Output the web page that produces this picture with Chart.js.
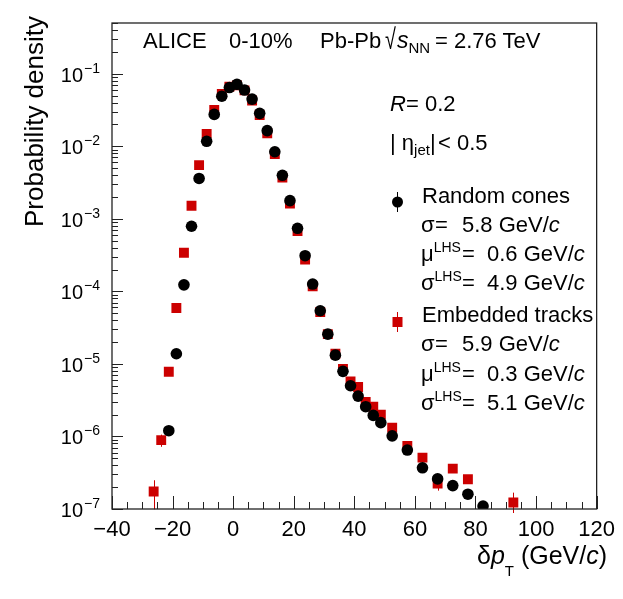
<!DOCTYPE html>
<html>
<head>
<meta charset="utf-8">
<script src="https://cdn.jsdelivr.net/npm/chart.js@4.4.0/dist/chart.umd.min.js"></script>
<style>
  html, body { margin: 0; padding: 0; background: #fff; }
  #wrap { position: relative; width: 623px; height: 599px; }
  canvas { position: absolute; left: 0; top: 0; }
  .t { position: absolute; font-family: "Liberation Sans", Arial, sans-serif; color: #000; white-space: pre; line-height: 1; }
  .t .s { position: relative; line-height: 0; }
</style>
</head>
<body>
<div id="wrap"><canvas id="c" width="623" height="599"></canvas></div>
<script>
// random cones (black circles)
const coneX = [-21.25, -18.75, -16.25, -13.75, -11.25, -8.75, -6.25, -3.75, -1.25, 1.25, 3.75, 6.25,
  8.75, 11.25, 13.75, 16.25, 18.75, 21.25, 23.75, 26.25, 28.75, 31.25, 33.75, 36.25, 38.75, 41.25,
  43.75, 46.25, 48.75, 52.5, 57.5, 62.5, 67.5, 72.5, 77.5, 82.5];
const coneY = [1.2e-6, 1.38e-5, 1.23e-4, 7.9e-4, 3.6e-3, 1.17e-2, 2.75e-2, 4.9e-2, 6.45e-2, 7.15e-2, 5.95e-2, 4.47e-2,
  2.84e-2, 1.64e-2, 8.4e-3, 3.98e-3, 1.78e-3, 7.4e-4, 3.1e-4, 1.26e-4, 5.4e-5, 2.57e-5, 1.32e-5, 7.9e-6, 5.0e-6, 3.6e-6,
  2.57e-6, 1.95e-6, 1.55e-6, 1.02e-6, 6.5e-7, 3.7e-7, 2.6e-7, 2.1e-7, 1.6e-7, 1.1e-7];

// embedded tracks (red squares)
const embX = [-26.25, -23.75, -21.25, -18.75, -16.25, -13.75, -11.25, -8.75, -6.25, -3.75, -1.25, 1.25, 3.75,
  6.25, 8.75, 11.25, 13.75, 16.25, 18.75, 21.25, 23.75, 26.25, 28.75, 31.25, 33.75, 36.25, 38.75, 41.25,
  43.75, 46.25, 48.75, 52.5, 57.5, 62.5, 67.5, 72.5, 77.5, 92.5];
const embY = [1.74e-7, 8.9e-7, 7.8e-6, 5.9e-5, 3.4e-4, 1.51e-3, 5.5e-3, 1.48e-2, 3.16e-2, 5.25e-2, 6.6e-2, 6.9e-2, 5.9e-2,
  4.27e-2, 2.7e-2, 1.51e-2, 7.8e-3, 3.7e-3, 1.62e-3, 6.8e-4, 2.75e-4, 1.17e-4, 5.2e-5, 2.57e-5, 1.38e-5, 8.5e-6, 5.75e-6, 4.8e-6,
  3.0e-6, 2.57e-6, 2.0e-6, 1.32e-6, 7.4e-7, 5.1e-7, 2.24e-7, 3.6e-7, 2.57e-7, 1.23e-7];
const embErr = [0.75e-7, 1.7e-7, 0, 0, 0, 0, 0, 0, 0, 0, 0, 0, 0,
  0, 0, 0, 0, 0, 0, 0, 0, 0, 0, 0, 0, 0, 0, 0,
  0, 0, 0, 0, 0, 0, 0.45e-7, 0.3e-7, 0.35e-7, 0.45e-7];

const xTicks = [-40, -20, 0, 20, 40, 60, 80, 100, 120];
const yExponents = [-7, -6, -5, -4, -3, -2, -1];

const FONT = '"Liberation Sans", Arial, sans-serif';
const RED = '#cc0000';

const rootFrame = {
  id: 'rootFrame',
  beforeDatasetsDraw(chart) {
    const { ctx, chartArea: a, scales: { x, y } } = chart;
    ctx.save();
    ctx.beginPath();
    ctx.rect(a.left, a.top, a.right - a.left, a.bottom - a.top + 4);
    ctx.clip();
    ctx.lineWidth = 1;
    ctx.strokeStyle = RED;
    embX.forEach((v, i) => {
      if (!embErr[i]) return;
      const px = Math.round(x.getPixelForValue(v)) + 0.5;
      ctx.beginPath();
      ctx.moveTo(px, y.getPixelForValue(embY[i] + embErr[i]));
      ctx.lineTo(px, y.getPixelForValue(Math.max(embY[i] - embErr[i], 1e-8)));
      ctx.stroke();
    });
    ctx.restore();
  },
  afterDraw(chart) {
    const { ctx, chartArea: a, scales: { x, y } } = chart;
    ctx.save();
    // frame
    ctx.strokeStyle = '#222';
    ctx.lineWidth = 1.3;
    ctx.strokeRect(a.left, a.top, a.right - a.left, a.bottom - a.top);
    // x ticks (inside)
    ctx.lineWidth = 1;
    ctx.beginPath();
    for (let v = -40; v <= 120; v += 5) {
      const px = Math.round(x.getPixelForValue(v)) + 0.5;
      const len = v % 20 === 0 ? 13 : 7;
      ctx.moveTo(px, a.bottom);
      ctx.lineTo(px, a.bottom - len);
    }
    // y ticks (inside)
    yExponents.forEach(e => {
      for (let m = 1; m <= 9; m++) {
        const val = m * Math.pow(10, e);
        if (val > y.max) break;
        const py = Math.round(y.getPixelForValue(val)) + 0.5;
        ctx.moveTo(a.left, py);
        ctx.lineTo(a.left + (m === 1 ? 11 : 6), py);
      }
    });
    ctx.stroke();
    // y labels 10^n
    ctx.fillStyle = '#000';
    ctx.textBaseline = 'alphabetic';
    yExponents.forEach(e => {
      const py = y.getPixelForValue(Math.pow(10, e));
      const sup = '\u2212' + Math.abs(e);
      ctx.font = '14px ' + FONT;
      const sw = ctx.measureText(sup).width;
      const supRight = a.left - 12;
      ctx.textAlign = 'right';
      ctx.fillText(sup, supRight, py - 1);
      ctx.font = '20px ' + FONT;
      ctx.fillText('10', supRight - sw - 1, py + 8);
    });
    // legend markers
    ctx.strokeStyle = '#000';
    ctx.beginPath();
    ctx.moveTo(397.5, 192); ctx.lineTo(397.5, 212);
    ctx.stroke();
    ctx.fillStyle = '#000';
    ctx.beginPath();
    ctx.arc(397.5, 202, 5.5, 0, Math.PI * 2);
    ctx.fill();
    ctx.strokeStyle = RED;
    ctx.beginPath();
    ctx.moveTo(397.5, 312); ctx.lineTo(397.5, 332);
    ctx.stroke();
    ctx.fillStyle = RED;
    ctx.fillRect(392.5, 317, 10, 10);
    ctx.restore();
  }
};

new Chart(document.getElementById('c'), {
  type: 'scatter',
  data: {
    datasets: [{
      label: 'Random cones',
      data: coneX.map((v, i) => ({ x: v, y: coneY[i] })),
      pointStyle: 'circle',
      pointRadius: 5.8,
      pointHoverRadius: 5.8,
      backgroundColor: '#000',
      borderWidth: 0
    }, {
      label: 'Embedded tracks',
      data: embX.map((v, i) => ({ x: v, y: embY[i] })),
      pointStyle: 'rect',
      pointRadius: 7,
      pointHoverRadius: 7,
      backgroundColor: RED,
      borderWidth: 0
    }]
  },
  options: {
    responsive: false,
    animation: false,
    layout: { padding: { top: 23, right: 26, left: 0, bottom: 0 } },
    plugins: { legend: { display: false }, tooltip: { enabled: false } },
    scales: {
      x: {
        type: 'linear', min: -40, max: 120,
        border: { display: false },
        grid: { display: false, drawTicks: false },
        afterBuildTicks: s => { s.ticks = xTicks.map(v => ({ value: v })); },
        ticks: {
          color: '#000', font: { family: FONT, size: 22 }, padding: 8,
          maxRotation: 0, autoSkip: false,
          callback: v => String(v).replace('-', '\u2212')
        },
        afterFit: s => { s.height = 90; }
      },
      y: {
        type: 'logarithmic', min: 1e-7, max: 0.5,
        border: { display: false },
        grid: { display: false, drawTicks: false },
        ticks: { display: false },
        afterFit: s => { s.width = 112; }
      }
    }
  },
  plugins: [rootFrame]
});

// text annotations: html, left x, baseline y, font size
const wrap = document.getElementById('wrap');
function put(html, x, base, size, rightAlign) {
  const d = document.createElement('div');
  d.className = 't';
  d.style.fontSize = size + 'px';
  d.style.top = (base - 0.8465 * size) + 'px';
  if (rightAlign) d.style.right = (623 - x) + 'px'; else d.style.left = x + 'px';
  d.innerHTML = html;
  wrap.appendChild(d);
  return d;
}
const sub = (t, size, dy) => `<span class="s" style="font-size:${size}px;top:${dy}px">${t}</span>`;

put('ALICE', 143, 48.7, 22);
put('0-10%', 229, 48.7, 22);
put('Pb-Pb', 320, 48.7, 22);
const rad = put('\u221A', 385, 51, 22);
rad.style.transformOrigin = '0 100%';
rad.style.transform = 'scale(0.9, 1.3)';
put('<i>s</i>' + sub('NN', 15, 5), 397, 48.7, 23);
put('= 2.76 TeV', 435, 48.7, 22);

put('<i>R</i>', 390, 111.5, 22);
put('= 0.2', 406, 111.5, 22);
put('| \u03B7' + sub('jet', 15, 5) + '|', 390, 151, 22);
put('< 0.5', 438, 151, 22);

const legendRows = [
  ['Random cones', 422, 204],
  ['\u03C3', 421, 233], ['=', 435, 233], ['5.8 GeV/<i>c</i>', 462, 233],
  ['\u03BC' + sub('LHS', 14, -9), 421, 262], ['=', 462, 262], ['0.6 GeV/<i>c</i>', 487, 262],
  ['\u03C3' + sub('LHS', 14, -9), 421, 291], ['=', 462, 291], ['4.9 GeV/<i>c</i>', 487, 291],
  ['Embedded tracks', 422, 323],
  ['\u03C3', 421, 352], ['=', 435, 352], ['5.9 GeV/<i>c</i>', 462, 352],
  ['\u03BC' + sub('LHS', 14, -9), 421, 382], ['=', 462, 382], ['0.3 GeV/<i>c</i>', 487, 382],
  ['\u03C3' + sub('LHS', 14, -9), 421, 411], ['=', 462, 411], ['5.1 GeV/<i>c</i>', 487, 411]
];
legendRows.forEach(r => put(r[0], r[1], r[2], 22));

// axis titles
put('\u03B4<i>p</i>' + sub('T', 15, 12), 477, 564, 25);
put('(GeV/<i>c</i>)', 607, 564, 25, true);

const yt = document.createElement('div');
yt.className = 't';
yt.style.fontSize = '26px';
yt.style.left = (43 - 0.8465 * 26) + 'px';
yt.style.top = '227px';
yt.style.transformOrigin = '0 0';
yt.style.transform = 'rotate(-90deg)';
yt.textContent = 'Probability density';
wrap.appendChild(yt);
</script>
</body>
</html>
